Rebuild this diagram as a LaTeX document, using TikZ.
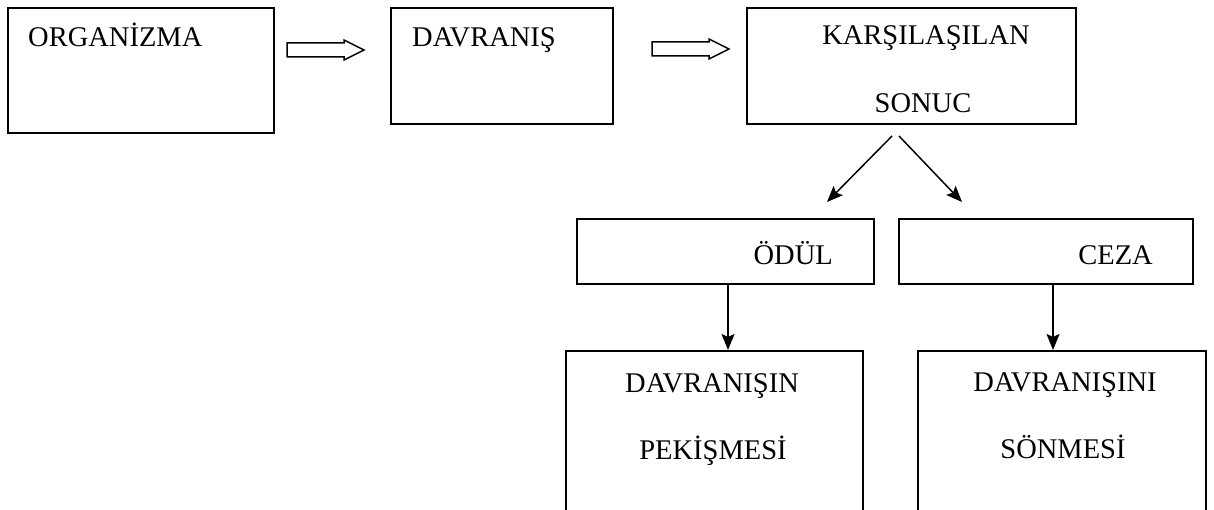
\documentclass[tikz,border=0pt]{standalone}
\usepackage{fontspec}
\setmainfont{Liberation Serif}
\usetikzlibrary{arrows.meta,calc}
\begin{document}
\begin{tikzpicture}[x=1pt,y=-1pt,
  box/.style={draw,line width=1.6pt,inner sep=0pt,anchor=north west},
  lbl/.style={font=\fontsize{28.5}{34}\selectfont,inner sep=0pt},
  conn/.style={line width=1.5pt,-{Stealth[length=16pt,width=13pt,inset=3pt]}},
  block/.style={draw,line width=1.5pt,fill=white,line join=miter}]
\useasboundingbox (0,0) rectangle (1214,510);
\clip (0,0) rectangle (1214,510);
% boxes
\node[box,minimum width=266pt,minimum height=125pt] (org) at (7,7) {};
\node[box,minimum width=222pt,minimum height=116pt] (dav) at (390,7) {};
\node[box,minimum width=329pt,minimum height=116pt] (kars) at (746,7) {};
\node[box,minimum width=297pt,minimum height=65pt] (odul) at (576,218) {};
\node[box,minimum width=294pt,minimum height=65pt] (ceza) at (898,218) {};
\node[box,minimum width=297pt,minimum height=190pt] (pek) at (565,350) {};
\node[box,minimum width=288pt,minimum height=190pt] (son) at (917,350) {};
% texts
\node[lbl,anchor=base west] (orgt) at (28,47) {ORGANİZMA};
\node[lbl,anchor=base west] (davt) at (412,47) {DAVRANIŞ};
\node[lbl,anchor=base] (karst) at (926,45) {KARŞILAŞILAN};
\node[lbl,anchor=base] (sonuct) at (923,113) {SONUC};
\node[lbl,anchor=base east] (odult) at (833,265) {ÖDÜL};
\node[lbl,anchor=base east] (cezat) at (1153,265) {CEZA};
\node[lbl,anchor=base] (pekt1) at (712,392) {DAVRANIŞIN};
\node[lbl,anchor=base] (pekt2) at (713,459) {PEKİŞMESİ};
\node[lbl,anchor=base] (sont1) at (1065,391) {DAVRANIŞINI};
\node[lbl,anchor=base] (sont2) at (1063,458) {SÖNMESİ};
% hollow block arrows
\coordinate (b1) at (287,50);
\coordinate (b2) at (652,49);
\foreach \b in {b1,b2}{
  \draw[block] (\b) ++(0,-7) -- ++(57,0) -- ++(0,-3) -- ++(20,10) -- ++(-20,10) -- ++(0,-3) -- ++(-57,0) -- cycle;
}
% diagonal arrows
\coordinate (d1s) at (892,136);
\coordinate (d1e) at (827,202);
\coordinate (d2s) at (899,136);
\coordinate (d2e) at (962,202);
\draw[conn] (d1s) -- (d1e);
\draw[conn] (d2s) -- (d2e);
% down arrows
\coordinate (o1) at (728,283);
\coordinate (c1) at (1053,283);
\draw[conn] (o1) -- (o1 |- pek.north);
\draw[conn] (c1) -- (c1 |- son.north);
\end{tikzpicture}
\end{document}
